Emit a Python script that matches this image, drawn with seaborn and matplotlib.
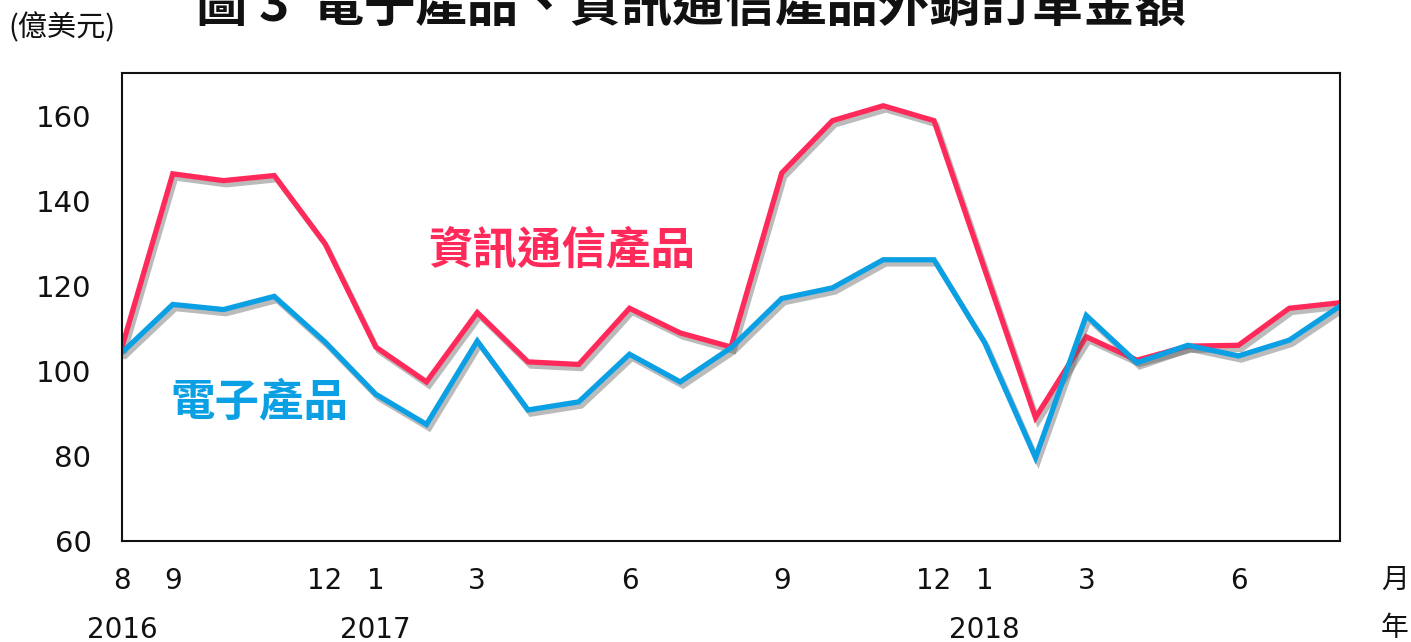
import pandas as pd
import matplotlib.pyplot as plt
import matplotlib.patheffects as pe
import seaborn as sns

####################################
month_labels = ['8', '9', '', '', '12', '1', '', '3', '', '', '6', '', '', '9', '', '',
                '12', '1', '', '3', '', '', '6', '', '']
year_labels = {0: '2016', 5: '2017', 17: '2018'}

ict = [105.6, 146.3, 144.7, 145.9, 129.9, 105.6, 97.4, 113.7, 102.1, 101.5, 114.7, 108.9,
       105.6, 146.5, 158.8, 162.3, 158.8, 123.8, 89.0, 108.0, 102.5, 105.8, 106.0, 114.7, 116.0]
elec = [104.3, 115.6, 114.4, 117.5, 106.8, 94.5, 87.4, 107.0, 90.8, 92.7, 103.9, 97.4,
        105.4, 117.0, 119.5, 126.1, 126.1, 106.6, 79.6, 113.0, 101.9, 106.0, 103.5, 107.2, 115.2]
series = ['資訊通信產品', '電子產品']
colors = ['#FF2A5A', '#0BA0E4']
####################################

n = len(ict)
df = pd.DataFrame({
    'idx': list(range(n)) * 2,
    'value': ict + elec,
    'series': [series[0]] * n + [series[1]] * n,
})

sns.set_theme(style='white')
plt.rcParams['font.family'] = ['Noto Sans CJK TC', 'DejaVu Sans']

fig = plt.figure(figsize=(14.11, 6.42), dpi=100)
ax = fig.add_axes([122 / 1411, 1 - 541 / 642, 1218 / 1411, 468 / 642])

sns.lineplot(data=df, x='idx', y='value', hue='series', palette=colors, linewidth=3.8,
             legend=False, ax=ax)
for line in ax.get_lines():
    line.set_path_effects([pe.SimpleLineShadow(offset=(2, -3), shadow_color='#555555', alpha=0.4),
                           pe.Normal()])
    line.set_solid_joinstyle('miter')

ax.set_xlim(0, n - 1)
ax.set_ylim(60, 170)
ax.set_yticks([60, 80, 100, 120, 140, 160])
ax.set_xticks(range(n))
ax.set_xticklabels([])
ax.set_xlabel('')
ax.set_ylabel('')
ax.tick_params(axis='y', direction='in', length=10, width=1.3, labelsize=21, pad=22, colors='#111111')
ax.tick_params(axis='x', direction='in', length=10, width=1.3, colors='#111111')
for lab in ax.get_yticklabels():
    lab.set_family('DejaVu Sans')
for s in ax.spines.values():
    s.set_color('#111111')
    s.set_linewidth(1.5)

# month and year labels under the axis
for i, m in enumerate(month_labels):
    if m:
        ax.text(i, -0.085, m, transform=ax.get_xaxis_transform(), ha='center', va='center',
                fontsize=20, color='#111111', family='DejaVu Sans')
for i, y in year_labels.items():
    ax.text(i, -0.19, y, transform=ax.get_xaxis_transform(), ha='center', va='center',
            fontsize=20, color='#111111', family='DejaVu Sans')
fig.text(1395 / 1411, 1 - 580 / 642, '月', ha='center', va='center', fontsize=20, color='#111111')
fig.text(1395 / 1411, 1 - 628 / 642, '年', ha='center', va='center', fontsize=20, color='#111111')

# series labels
ax.text(8.67, 128.2, series[0], ha='center', va='center', fontsize=32, fontweight='bold',
        color=colors[0])
ax.text(2.71, 92.6, series[1], ha='center', va='center', fontsize=32, fontweight='bold',
        color=colors[1])

fig.text(691 / 1411, 1 - 6 / 642, '圖 3  電子產品、資訊通信產品外銷訂單金額', ha='center', va='center',
         fontsize=37, fontweight='bold', color='#111111')
fig.text(8 / 1411, 1 - 28 / 642, '(億美元)', ha='left', va='center', fontsize=21, color='#111111')

fig.savefig('out.png', dpi=100)
